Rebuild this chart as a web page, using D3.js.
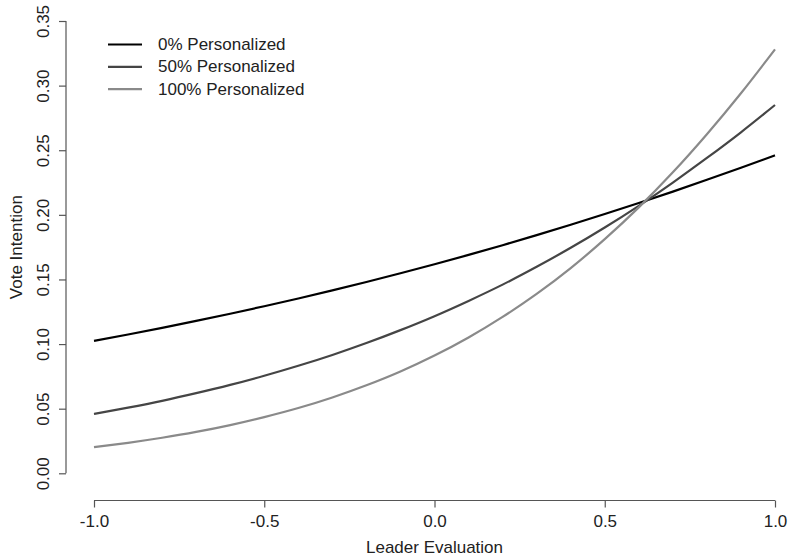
<!DOCTYPE html>
<html><head><meta charset="utf-8">
<script src="https://cdn.jsdelivr.net/npm/d3@7"></script>
<style>body{margin:0;background:#fff}svg{display:block}text{font-family:"Liberation Sans",Arial,sans-serif;fill:#222}</style>
</head><body><div id="chart"></div>
<script>
const xVals = [-1.0,-0.9,-0.8,-0.7,-0.6,-0.5,-0.4,-0.3,-0.2,-0.1,0.0,0.1,0.2,0.3,0.4,0.5,0.6,0.7,0.8,0.9,1.0];
const pers0 = [0.1025,0.1074,0.1125,0.1179,0.1235,0.1293,0.1353,0.1415,0.1480,0.1548,0.1618,0.1690,0.1765,0.1843,0.1923,0.2006,0.2092,0.2180,0.2271,0.2364,0.2460];
const pers50 = [0.0459,0.0508,0.0561,0.0620,0.0684,0.0755,0.0832,0.0916,0.1008,0.1108,0.1216,0.1334,0.1460,0.1598,0.1745,0.1902,0.2070,0.2250,0.2440,0.2639,0.2850];
const pers100 = [0.0202,0.0236,0.0275,0.0320,0.0373,0.0435,0.0505,0.0587,0.0681,0.0788,0.0911,0.1051,0.1210,0.1388,0.1588,0.1812,0.2058,0.2329,0.2624,0.2941,0.3281];
const seriesNames = ["0% Personalized","50% Personalized","100% Personalized"];
const seriesColors = ["#000000","#454545","#8a8a8a"];
const xTicks = [-1.0,-0.5,0.0,0.5,1.0];
const xTickLabels = ["-1.0","-0.5","0.0","0.5","1.0"];
const yTicks = [0.00,0.05,0.10,0.15,0.20,0.25,0.30,0.35];
const yTickLabels = ["0.00","0.05","0.10","0.15","0.20","0.25","0.30","0.35"];
const xLabel = "Leader Evaluation";
const yLabel = "Vote Intention";

const W = 788, H = 558, FS = 17;
const svg = d3.select("#chart").append("svg").attr("width", W).attr("height", H);
const x = d3.scaleLinear().domain([-1, 1]).range([94, 775]);
const y = d3.scaleLinear().domain([0, 0.35]).range([473.3, 21]);
const axisColor = "#555";

// x axis
const xAxisY = 500.5;
const gx = svg.append("g").attr("transform", `translate(0,${xAxisY})`)
  .call(d3.axisBottom(x).tickValues(xTicks).tickFormat((d, i) => xTickLabels[i]).tickSize(7).tickPadding(5).tickSizeOuter(0));
gx.select(".domain").attr("d", `M${x(-1)},0H${x(1)}`);
// y axis
const yAxisX = 66;
const gy = svg.append("g").attr("transform", `translate(${yAxisX},0)`)
  .call(d3.axisLeft(y).tickValues(yTicks).tickFormat((d, i) => yTickLabels[i]).tickSize(7).tickSizeOuter(0));
gy.select(".domain").attr("d", `M0,${y(0)}V${y(0.35)}`);
[gx, gy].forEach(g => {
  g.selectAll(".domain, line").attr("stroke", axisColor).attr("stroke-width", 1.2);
  g.selectAll("text").attr("font-size", FS).attr("fill", "#222").style("font-family", '"Liberation Sans",Arial,sans-serif');
});
gx.selectAll("text").attr("dy", "0.85em");
gy.selectAll(".tick text").attr("text-anchor", "middle").attr("dy", null)
  .attr("transform", "translate(-23,0) rotate(-90)").attr("x", 0).attr("y", 0).attr("dominant-baseline", "central");

// labels
svg.append("text").attr("x", x(0)).attr("y", 553).attr("text-anchor", "middle").attr("font-size", FS).text(xLabel);
svg.append("text").attr("transform", `translate(16,${(y(0)+y(0.35))/2}) rotate(-90)`).attr("text-anchor", "middle").attr("dominant-baseline", "central").attr("font-size", FS).text(yLabel);

// lines
const data = [pers0, pers50, pers100];
const line = d3.line().x((d, i) => x(xVals[i])).y(d => y(d)).curve(d3.curveMonotoneX);
data.forEach((s, k) => {
  svg.append("path").datum(s).attr("d", line).attr("fill", "none")
    .attr("stroke", seriesColors[k]).attr("stroke-width", 2.2);
});

// legend
const leg = svg.append("g");
seriesNames.forEach((n, k) => {
  const ly = 44.5 + k * 22.3;
  leg.append("line").attr("x1", 108).attr("x2", 142).attr("y1", ly).attr("y2", ly)
    .attr("stroke", seriesColors[k]).attr("stroke-width", 2.2);
  leg.append("text").attr("x", 158).attr("y", ly).attr("dominant-baseline", "central").attr("font-size", FS).text(n);
});
</script></body></html>
